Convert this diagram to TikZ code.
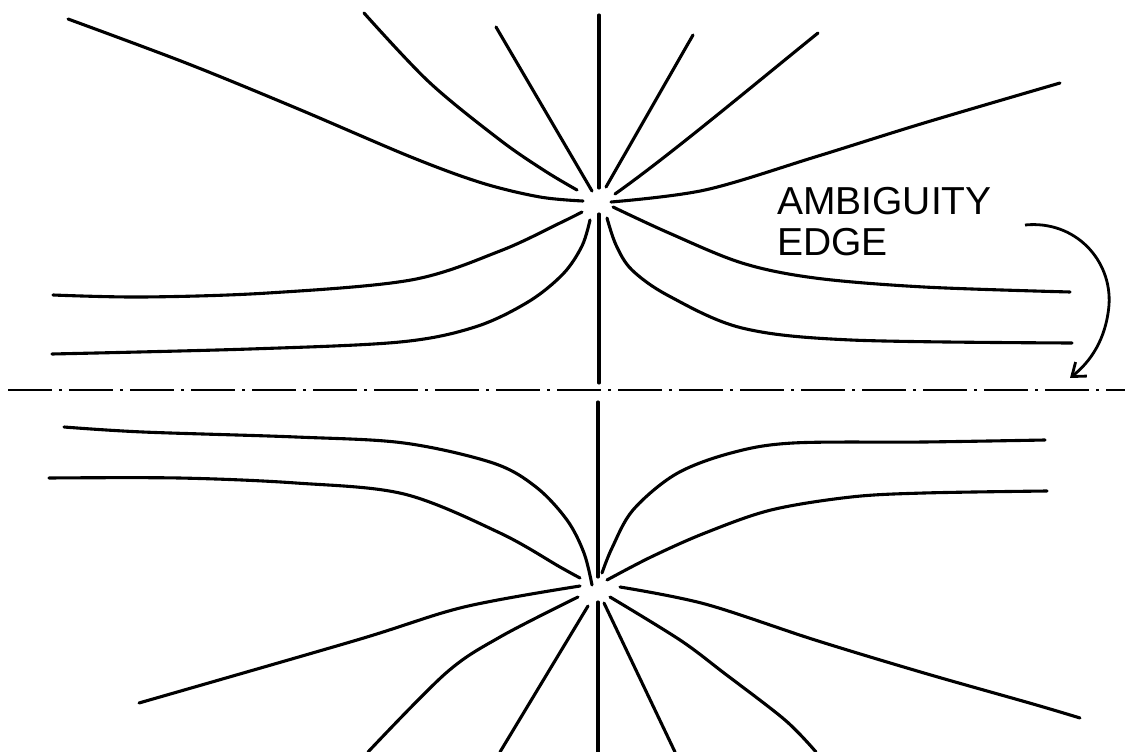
\documentclass[tikz,border=0pt]{standalone}
\usepackage{fontspec}
\setmainfont{Liberation Sans}
\usetikzlibrary{arrows.meta}
\tikzset{
  fieldline/.style={line width=3.1pt, line cap=round, line join=round},
  smoothcurve/.style={fieldline, smooth, tension=0.55},
  edgeline/.style={line width=2.8pt, dash pattern=on 44pt off 7pt on 3pt off 7pt},
  pointer/.style={line width=2.8pt, -{Straight Barb[length=12pt,width=18pt,line width=2.8pt]}},
  lettering/.style={font=\fontsize{39}{41}\selectfont, inner sep=0pt, anchor=base west}
}
\begin{document}
\begin{tikzpicture}[x=1pt,y=-1pt]
\useasboundingbox (0,0) rectangle (1125,752);

% ---------- upper source ----------
\draw[smoothcurve] plot coordinates {(68,19) (186,63) (296,108) (411,157) (482,183) (540,197) (583,201)};
\draw[smoothcurve] plot coordinates {(364,13) (429,82) (500,140) (545,171) (577,190)};
\draw[fieldline] (496,27) -- (592,191);
\draw[fieldline] (599,15) -- (599,188);
\draw[fieldline] (599,214) -- (599,383);
\draw[fieldline] (693,35) -- (606,187);
\coordinate (r6a) at (818,33);
\coordinate (r6b) at (615,194);
\draw[fieldline] (r6a) .. controls (750,88) and (670,155) .. (r6b);
\draw[smoothcurve] plot coordinates {(611,202) (705,190) (815,157) (924,123) (1060,83)};
\draw[smoothcurve] plot coordinates {(53,295) (143,297) (268,293) (411,280) (500,251) (560,223) (582,212)};
\draw[smoothcurve] plot coordinates {(52,354) (250,349) (400,342) (475,327) (528,302) (563,274) (582,246) (590,220)};
\draw[smoothcurve] plot coordinates {(613,207) (669,233) (742,263) (815,278) (924,287) (1070,292)};
\draw[smoothcurve] plot coordinates {(607,218) (616,245) (632,270) (669,296) (742,328) (851,340) (1072,343)};

% ---------- ambiguity edge ----------
\coordinate (edgeL) at (8,390);
\coordinate (edgeR) at (1125,390);
\draw[edgeline] (edgeL) -- (edgeR);

% ---------- lower source ----------
\draw[smoothcurve] plot coordinates {(64,427) (143,432) (296,437) (404,443) (493,463) (536,487) (567,520) (584,553) (592,585)};
\draw[smoothcurve] plot coordinates {(49,478) (179,478) (296,483) (404,494) (500,533) (560,567) (580,578)};
\draw[smoothcurve] plot coordinates {(1045,440) (924,442) (793,443) (731,453) (676,474) (633,510) (612,548) (602,573)};
\draw[smoothcurve] plot coordinates {(1047,491) (924,493) (851,497) (771,510) (705,533) (651,557) (607,580)};
\draw[smoothcurve] plot coordinates {(139,703) (357,640) (464,607) (580,586)};
\draw[smoothcurve] plot coordinates {(620,587) (705,604) (815,640) (924,673) (1033,704) (1080,718)};
\draw[smoothcurve] plot coordinates {(368,752) (446,673) (500,637) (578,597)};
\draw[fieldline] (500,752) -- (588,606);
\draw[fieldline] (675,752) -- (604,603);
\draw[smoothcurve] plot coordinates {(816,752) (785,720) (724,673) (680,640) (610,597)};
\draw[fieldline] (598,402) -- (598,577);
\draw[fieldline] (598,602) -- (598,752);

% ---------- label ----------
\node[lettering] (lab1) at (777,214) {AMBIGUITY};
\node[lettering] (lab2) at (777,255) {EDGE};
\coordinate (arrS) at (1025,225);
\coordinate (arrM) at (1109,305);
\coordinate (arrE) at (1070,378);
\draw[pointer] (arrS) .. controls (1075,220) and (1112,260) .. (arrM) .. controls (1106,340) and (1090,362) .. (arrE);
\end{tikzpicture}
\end{document}
